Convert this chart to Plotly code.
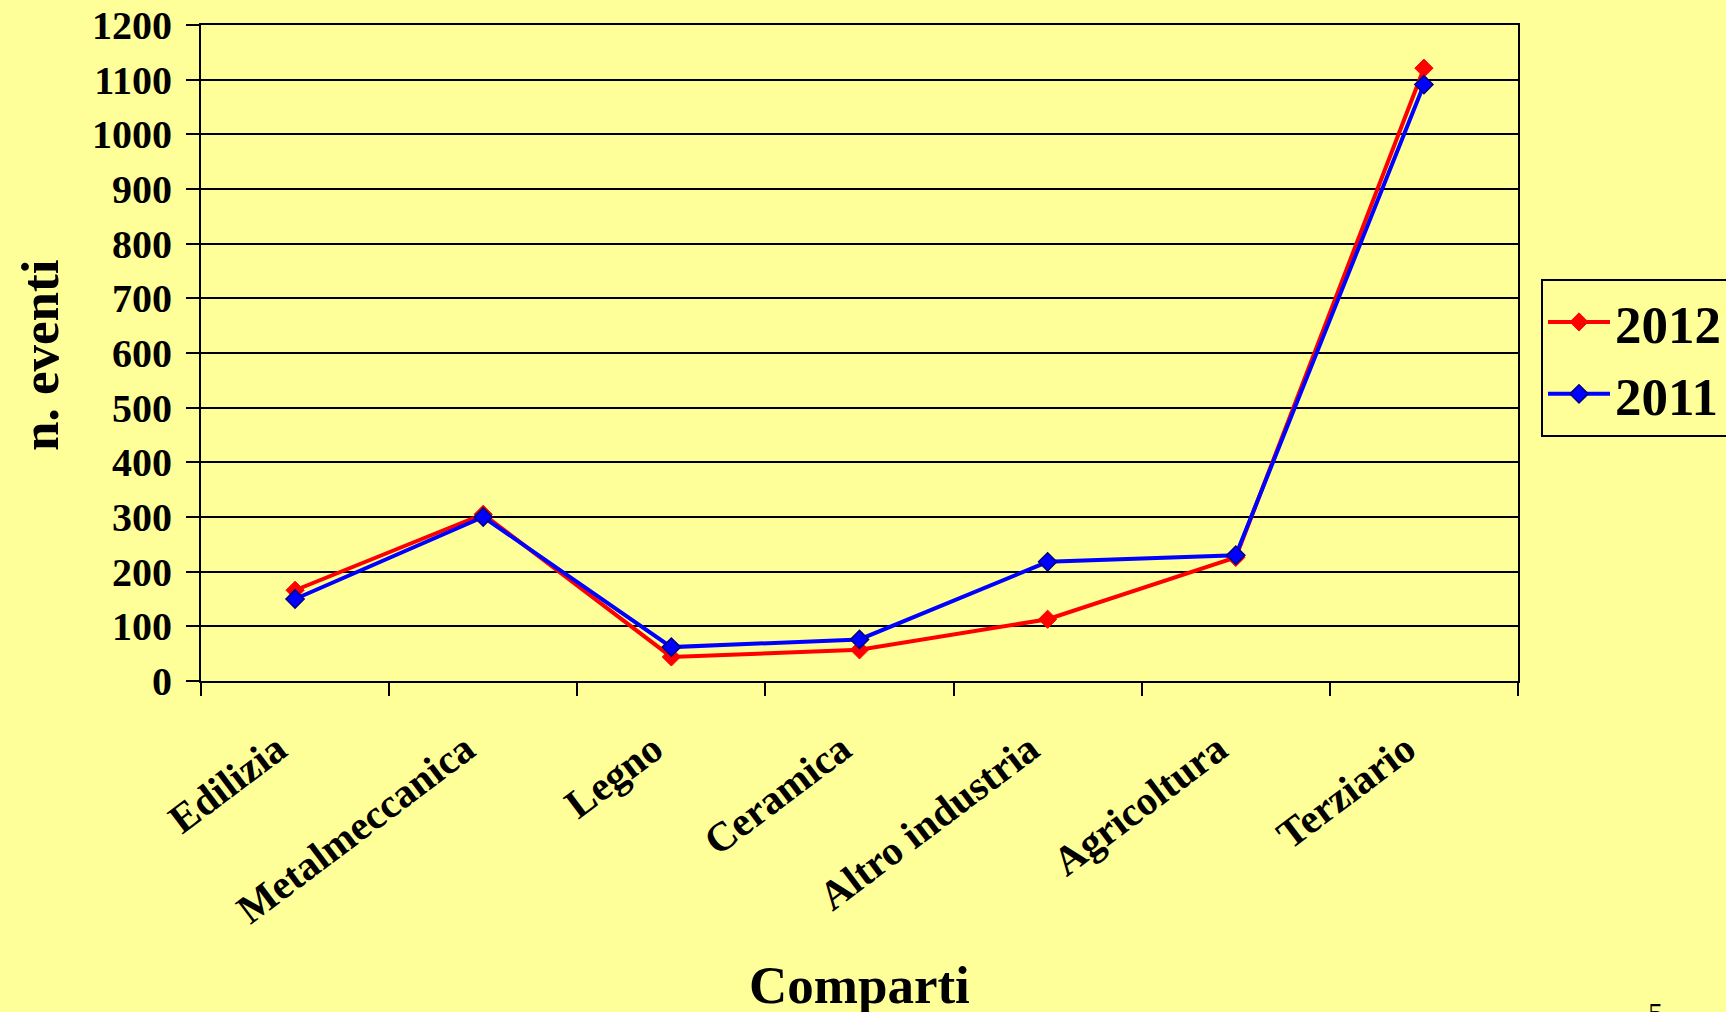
import plotly.graph_objects as go

categories = ["Edilizia", "Metalmeccanica", "Legno", "Ceramica", "Altro industria", "Agricoltura", "Terziario"]
values_2012 = [166, 305, 44, 57, 113, 226, 1121]
values_2011 = [150, 300, 62, 76, 218, 230, 1091]
y_ticks = list(range(0, 1201, 100))

BG = "#FFFF99"
FONT = "Liberation Serif"

L, R, T, B = 201, 208, 25, 331
PW = 1726 - L - R
PH = 1012 - T - B


def px(x):
    return (x - L) / PW


def py(y):
    return (1012 - B - y) / PH


fig = go.Figure()
fig.add_trace(go.Scatter(
    x=categories, y=values_2012, name="2012", mode="lines+markers",
    line=dict(color="#FF0000", width=4),
    marker=dict(symbol="diamond", size=14, color="#FF0000", line=dict(color="#FF0000", width=1)),
))
fig.add_trace(go.Scatter(
    x=categories, y=values_2011, name="2011", mode="lines+markers",
    line=dict(color="#0000FF", width=4),
    marker=dict(symbol="diamond", size=14, color="#0000FF", line=dict(color="#000080", width=1.5)),
))

fig.update_layout(
    width=1726, height=1012,
    paper_bgcolor=BG, plot_bgcolor=BG,
    margin=dict(l=L, r=R, t=T, b=B, autoexpand=False),
    font=dict(family=FONT, color="black"),
    showlegend=True,
    legend=dict(
        x=px(1541), y=py(279), xanchor="left", yanchor="top",
        bgcolor=BG, bordercolor="black", borderwidth=2,
        font=dict(family=FONT, size=53, weight="bold", color="black"),
        itemwidth=62, tracegroupgap=0,
    ),
    xaxis=dict(
        type="category", categoryorder="array", categoryarray=categories,
        range=[-0.5, 6.5], automargin=False,
        showline=True, linecolor="black", linewidth=2, mirror=True,
        ticks="outside", tickson="boundaries", ticklen=13, tickwidth=2, tickcolor="black",
        tickangle=-37, showgrid=False, zeroline=False,
        tickfont=dict(family=FONT, size=41, weight="bold", color="black"),
        ticklabelstandoff=26, ticklabelshift=-18,
    ),
    yaxis=dict(
        range=[0, 1200], tickvals=y_ticks, automargin=False,
        showline=True, linecolor="black", linewidth=2, mirror=True,
        ticks="outside", ticklen=13, tickwidth=2, tickcolor="black",
        showgrid=True, gridcolor="black", gridwidth=2, zeroline=False,
        tickfont=dict(family=FONT, size=40, weight="bold", color="black"),
        ticklabelstandoff=6,
    ),
    annotations=[
        dict(text="Comparti", xref="paper", yref="paper", x=px(859), y=py(985),
             xanchor="center", yanchor="middle", showarrow=False,
             font=dict(family=FONT, size=53, weight="bold", color="black")),
        dict(text="n. eventi", xref="paper", yref="paper", x=px(40), y=py(356),
             xanchor="center", yanchor="middle", showarrow=False, textangle=-90,
             font=dict(family=FONT, size=53, weight="bold", color="black")),
        dict(text="5", xref="paper", yref="paper", x=px(1655), y=py(994),
             xanchor="center", yanchor="top", showarrow=False,
             font=dict(family=FONT, size=30, color="black")),
    ],
)

fig.write_html(
    "out.html",
    config={"displayModeBar": False},
    post_script="document.body.style.margin='0';document.body.style.padding='0';document.body.style.overflow='hidden';",
)
